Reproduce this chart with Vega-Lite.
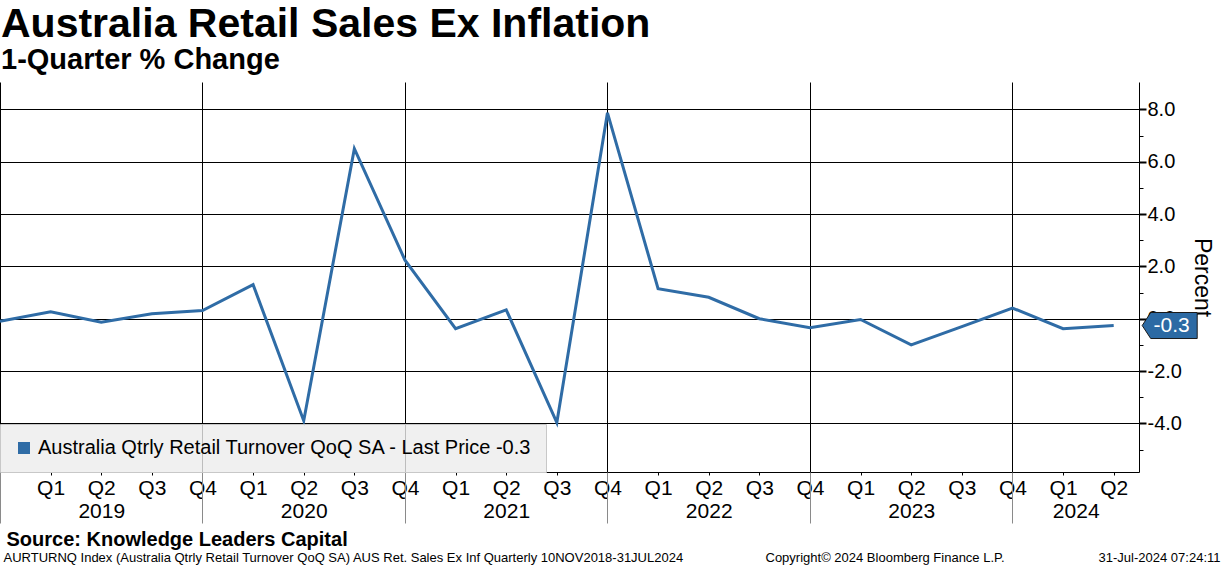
{
  "$schema": "https://vega.github.io/schema/vega-lite/v6.json",
  "width": 1139,
  "height": 390,
  "autosize": {"type": "none"},
  "padding": {"left": 0, "top": 82, "right": 85, "bottom": 94},
  "background": "white",
  "title": {
    "text": "Australia Retail Sales Ex Inflation",
    "subtitle": "1-Quarter % Change",
    "anchor": "start",
    "frame": "group",
    "dx": 1,
    "font": "Liberation Sans",
    "fontSize": 41,
    "fontWeight": "bold",
    "color": "black",
    "subtitleFont": "Liberation Sans",
    "subtitleFontSize": 29,
    "subtitleFontWeight": "bold",
    "subtitleColor": "black",
    "subtitlePadding": 0,
    "offset": 6
  },
  "data": {
    "values": [
      {"period": "2018 Q4", "t": 0, "v": -0.1},
      {"period": "2019 Q1", "t": 1, "v": 0.27},
      {"period": "2019 Q2", "t": 2, "v": -0.13},
      {"period": "2019 Q3", "t": 3, "v": 0.19},
      {"period": "2019 Q4", "t": 4, "v": 0.31},
      {"period": "2020 Q1", "t": 5, "v": 1.3},
      {"period": "2020 Q2", "t": 6, "v": -3.9},
      {"period": "2020 Q3", "t": 7, "v": 6.5},
      {"period": "2020 Q4", "t": 8, "v": 2.24},
      {"period": "2021 Q1", "t": 9, "v": -0.38},
      {"period": "2021 Q2", "t": 10, "v": 0.34},
      {"period": "2021 Q3", "t": 11, "v": -3.97},
      {"period": "2021 Q4", "t": 12, "v": 7.87},
      {"period": "2022 Q1", "t": 13, "v": 1.15},
      {"period": "2022 Q2", "t": 14, "v": 0.82},
      {"period": "2022 Q3", "t": 15, "v": 0.0},
      {"period": "2022 Q4", "t": 16, "v": -0.34},
      {"period": "2023 Q1", "t": 17, "v": -0.03},
      {"period": "2023 Q2", "t": 18, "v": -1.0},
      {"period": "2023 Q3", "t": 19, "v": -0.3},
      {"period": "2023 Q4", "t": 20, "v": 0.41},
      {"period": "2024 Q1", "t": 21, "v": -0.38},
      {"period": "2024 Q2", "t": 22, "v": -0.26}
    ]
  },
  "layer": [
    {
      "mark": {"type": "line", "strokeWidth": 3},
      "encoding": {
        "x": {
          "field": "t",
          "type": "quantitative",
          "scale": {"domain": [0, 22.5], "nice": false, "zero": false},
          "axis": {
            "orient": "bottom",
            "values": [1, 2, 3, 4, 5, 6, 7, 8, 9, 10, 11, 12, 13, 14, 15, 16, 17, 18, 19, 20, 21, 22],
            "labelExpr": "'Q' + (((datum.value + 3) % 4) + 1)",
            "tickSize": 3,
            "labelPadding": 2,
            "grid": false,
            "domain": true,
            "labelOverlap": false,
            "labelFlush": false,
            "title": "AURTURNQ Index (Australia Qtrly Retail Turnover QoQ SA) AUS Ret. Sales Ex Inf  Quarterly 10NOV2018-31JUL2024",
            "titleX": 3,
            "titleY": 89,
            "titleAlign": "left",
            "titleBaseline": "alphabetic",
            "titleFontSize": 13,
            "titleFontWeight": "normal"
          }
        },
        "y": {
          "field": "v",
          "type": "quantitative",
          "scale": {"domain": [-5.86, 9.05], "nice": false, "zero": false},
          "axis": {
            "orient": "right",
            "values": [-4, -2, 0, 2, 4, 6, 8],
            "format": ".1f",
            "grid": true,
            "tickSize": 7,
            "tickWidth": 2,
            "labelPadding": 1,
            "labelFontSize": 20,
            "domain": true,
            "title": "Percent",
            "titleFontSize": 23,
            "titleFontWeight": "normal",
            "titlePadding": 8
          }
        },
        "color": {
          "datum": "Australia Qtrly Retail Turnover QoQ SA - Last Price -0.3",
          "scale": {"range": ["#2f6ca6"]},
          "legend": {
            "orient": "bottom-left",
            "offset": 0,
            "title": null,
            "symbolType": "square",
            "symbolSize": 144,
            "symbolStrokeWidth": 0,
            "symbolFillColor": "#2f6ca6",
            "labelFont": "Liberation Sans",
            "labelFontSize": 20,
            "labelColor": "black",
            "labelOffset": 4,
            "labelLimit": 1000,
            "padding": 14,
            "fillColor": "rgba(236,236,236,0.8)",
            "strokeColor": "#c8c8c8",
            "encode": {
              "symbols": {"update": {"fill": {"value": "#2f6ca6"}, "stroke": {"value": "transparent"}}}
            }
          }
        }
      }
    },
    {
      "transform": [{"filter": "datum.t == 22"}],
      "mark": {
        "type": "point",
        "shape": "M-1,0L-0.69,-0.473L1,-0.473L1,0.473L-0.69,0.473Z",
        "size": 3025,
        "filled": true,
        "fill": "#2c6aa4",
        "stroke": "#1a1a1a",
        "strokeWidth": 1,
        "opacity": 1,
        "xOffset": 56,
        "clip": false
      },
      "encoding": {
        "x": {
          "field": "t",
          "type": "quantitative",
          "axis": {
            "orient": "bottom",
            "values": [0, 4, 8, 12, 16, 20],
            "grid": true,
            "tickSize": 51,
            "tickColor": "#8a8a8a",
            "labels": false,
            "domain": false,
            "title": "Source: Knowledge Leaders Capital",
            "titleX": 6,
            "titleY": 73,
            "titleAlign": "left",
            "titleBaseline": "alphabetic",
            "titleFontSize": 20,
            "titleFontWeight": "bold"
          }
        },
        "y": {
          "field": "v",
          "type": "quantitative",
          "axis": {
            "orient": "right",
            "values": [-5, -3, -1, 1, 3, 5, 7],
            "tickSize": 4,
            "labels": false,
            "domain": false,
            "grid": false,
            "title": "31-Jul-2024 07:24:11",
            "titleAngle": 0,
            "titleX": 81,
            "titleY": 479,
            "titleAlign": "right",
            "titleBaseline": "alphabetic",
            "titleFontSize": 13,
            "titleFontWeight": "normal"
          }
        }
      }
    },
    {
      "transform": [{"filter": "datum.t == 22"}],
      "mark": {
        "type": "text",
        "dx": 58,
        "align": "center",
        "baseline": "middle",
        "color": "white",
        "font": "Liberation Sans",
        "fontSize": 21
      },
      "encoding": {
        "x": {
          "field": "t",
          "type": "quantitative",
          "axis": {
            "orient": "bottom",
            "values": [2, 6, 10, 14, 18, 21.25],
            "labelExpr": "'' + (2019 + floor(datum.value / 4))",
            "ticks": false,
            "tickSize": 0,
            "domain": false,
            "grid": false,
            "labelPadding": 28,
            "labelOverlap": false,
            "labelFlush": false,
            "title": "Copyright© 2024 Bloomberg Finance L.P.",
            "titleX": 765,
            "titleY": 89,
            "titleAlign": "left",
            "titleBaseline": "alphabetic",
            "titleFontSize": 13,
            "titleFontWeight": "normal"
          }
        },
        "y": {"field": "v", "type": "quantitative", "axis": null},
        "text": {"field": "v", "type": "quantitative", "format": ".1f"}
      }
    }
  ],
  "resolve": {"axis": {"x": "independent", "y": "independent"}},
  "config": {
    "locale": {
      "number": {"decimal": ".", "thousands": ",", "grouping": [3], "currency": ["$", ""], "minus": "-"}
    },
    "view": {"stroke": null},
    "axis": {
      "labelFont": "Liberation Sans",
      "labelFontSize": 21,
      "labelColor": "black",
      "titleFont": "Liberation Sans",
      "titleColor": "black",
      "domainColor": "black",
      "tickColor": "black",
      "gridColor": "black",
      "gridOpacity": 1
    }
  }
}
